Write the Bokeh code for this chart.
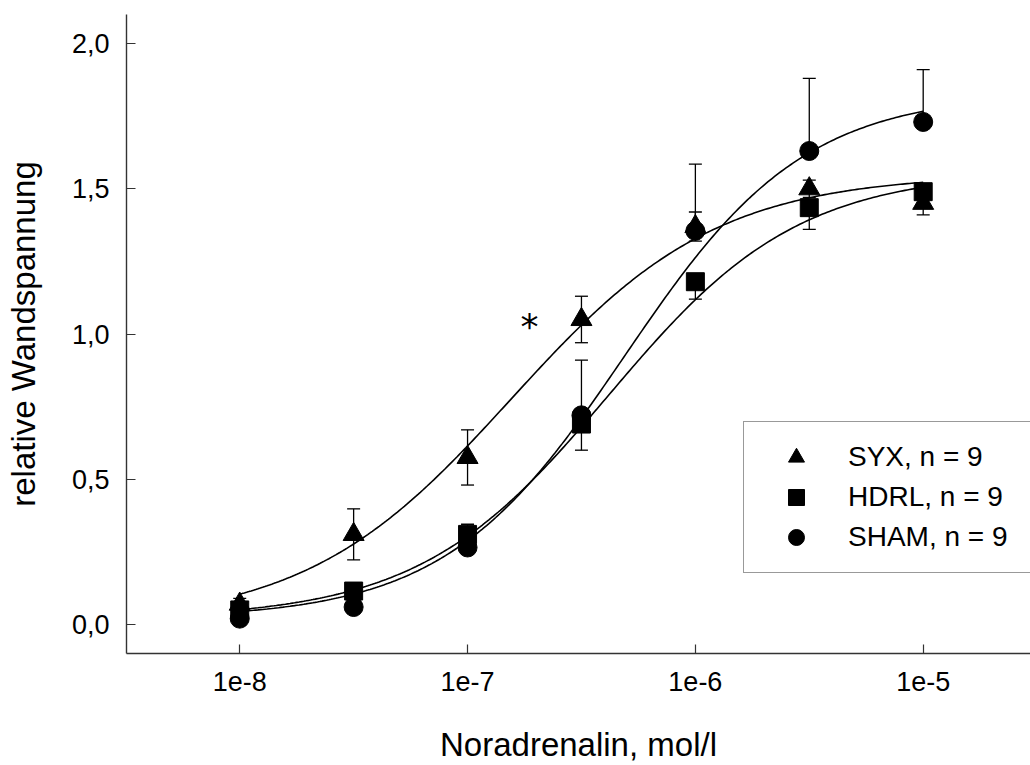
import numpy as np
from bokeh.plotting import figure
from bokeh.models import (Range1d, ColumnDataSource, Whisker, TeeHead, Legend, LegendItem,
                          FixedTicker, CustomJSTickFormatter)
from bokeh.core.properties import value
from bokeh.embed import file_html
from bokeh.resources import INLINE

# ---------------- data ----------------
concentration = [1e-8, 3.162e-8, 1e-7, 3.162e-7, 1e-6, 3.162e-6, 1e-5]

syx_mean = [0.07, 0.31, 0.575, 1.05, 1.37, 1.50, 1.45]
syx_sem = [0.02, 0.088, 0.095, 0.08, 0.05, 0.03, 0.04]

hdrl_mean = [0.05, 0.115, 0.31, 0.69, 1.18, 1.435, 1.49]
hdrl_sem = [0.01, 0.02, 0.03, 0.09, 0.06, 0.075, 0.04]

sham_mean = [0.02, 0.06, 0.265, 0.72, 1.355, 1.63, 1.73]
sham_sem = [0.01, 0.02, 0.08, 0.19, 0.23, 0.25, 0.18]

series_labels = ["SYX, n = 9", "HDRL, n = 9", "SHAM, n = 9"]

# fitted sigmoid (Hill) curves: bottom, top, log10 EC50, slope
syx_fit = (0.0, 1.55, -6.81, 0.96)
hdrl_fit = (0.02, 1.56, -6.38, 1.04)
sham_fit = (0.02, 1.83, -6.31, 1.10)

x_ticks = [1e-8, 1e-7, 1e-6, 1e-5]
x_tick_labels = ["1e-8", "1e-7", "1e-6", "1e-5"]
y_ticks = [0.0, 0.5, 1.0, 1.5, 2.0]
y_tick_labels = ["0,0", "0,5", "1,0", "1,5", "2,0"]

significance_x = [1.87e-7]
significance_y = [1.026]
significance_text = ["*"]

FONT = "Liberation Sans"

# ---------------- figure ----------------
p = figure(width=1030, height=765, x_axis_type="log",
           x_range=Range1d(10 ** -8.497, 10 ** -4.529), y_range=Range1d(-0.1, 2.1),
           output_backend="svg", toolbar_location=None,
           min_border_left=126, min_border_right=0, min_border_top=14, min_border_bottom=112)
p.outline_line_color = None
p.xgrid.grid_line_color = None
p.ygrid.grid_line_color = None
p.background_fill_color = "white"
p.border_fill_color = "white"

p.xaxis.ticker = FixedTicker(ticks=x_ticks)
p.yaxis.ticker = FixedTicker(ticks=y_ticks)
p.xaxis.formatter = CustomJSTickFormatter(args=dict(tvals=x_ticks, tlabels=x_tick_labels), code="""
    let best = 0;
    for (let i = 0; i < tvals.length; i++) {
        if (Math.abs(Math.log10(tvals[i]) - Math.log10(tick)) < Math.abs(Math.log10(tvals[best]) - Math.log10(tick))) best = i;
    }
    return tlabels[best];
""")
p.yaxis.formatter = CustomJSTickFormatter(args=dict(tvals=y_ticks, tlabels=y_tick_labels), code="""
    let best = 0;
    for (let i = 0; i < tvals.length; i++) {
        if (Math.abs(tvals[i] - tick) < Math.abs(tvals[best] - tick)) best = i;
    }
    return tlabels[best];
""")

p.xaxis.axis_label = "Noradrenalin, mol/l"
p.yaxis.axis_label = "relative Wandspannung"
for ax in (p.xaxis, p.yaxis):
    ax.axis_line_color = "#333333"
    ax.axis_line_width = 1.4
    ax.major_tick_line_color = "#333333"
    ax.major_tick_line_width = 1.2
    ax.major_tick_in = 9
    ax.major_tick_out = 0
    ax.minor_tick_line_color = None
    ax.major_label_text_font = FONT
    ax.major_label_text_font_size = "27px"
    ax.major_label_text_color = "black"
    ax.axis_label_text_font = FONT
    ax.axis_label_text_font_size = "33px"
    ax.axis_label_text_font_style = "normal"
    ax.axis_label_text_color = "black"
p.xaxis.major_label_standoff = 18
p.xaxis.axis_label_standoff = 32
p.yaxis.major_label_standoff = 17
p.yaxis.axis_label_standoff = 27


def hill(x, params):
    bottom, top, logec50, slope = params
    return bottom + (top - bottom) / (1.0 + 10 ** ((logec50 - np.log10(x)) * slope))


x_curve = np.logspace(np.log10(concentration[0]), np.log10(concentration[-1]), 300)

series = [
    (syx_mean, syx_sem, syx_fit, "triangle", 21, "both"),
    (hdrl_mean, hdrl_sem, hdrl_fit, "square", 18, "down"),
    (sham_mean, sham_sem, sham_fit, "circle", 19, "up"),
]

items = []
for (mean, sem, fit, marker, size, direction), label in zip(series, series_labels):
    mean_a = np.array(mean)
    sem_a = np.array(sem)
    upper = mean_a + sem_a if direction in ("both", "up") else mean_a
    lower = mean_a - sem_a if direction in ("both", "down") else mean_a
    src = ColumnDataSource(dict(x=concentration, y=mean, upper=upper, lower=lower))
    w = Whisker(source=src, base="x", upper="upper", lower="lower",
                line_color="black", line_width=1.3, level="underlay",
                upper_head=TeeHead(size=13, line_color="black", line_width=1.3) if direction in ("both", "up") else None,
                lower_head=TeeHead(size=13, line_color="black", line_width=1.3) if direction in ("both", "down") else None)
    p.add_layout(w)
    p.line(x_curve, hill(x_curve, fit), line_color="black", line_width=1.6)
    r = p.scatter("x", "y", source=src, marker=marker, size=size,
                  fill_color="black", line_color="black")
    items.append(LegendItem(label=label, renderers=[r]))

p.text(x=significance_x, y=significance_y, text=significance_text,
       text_font=value("DejaVu Sans"), text_font_size="36px",
       text_align="center", text_baseline="middle", text_color="black")

legend = Legend(items=items, location=(617, 80), orientation="vertical",
                glyph_width=74, glyph_height=40, spacing=0, padding=15,
                label_standoff=15, label_width=400, margin=0,
                label_text_font=FONT, label_text_font_size="28px", label_text_color="black",
                border_line_color="#333333", border_line_width=1.5,
                background_fill_color="white", background_fill_alpha=1.0)
p.add_layout(legend)

open("out.html", "w").write(file_html(p, INLINE))
